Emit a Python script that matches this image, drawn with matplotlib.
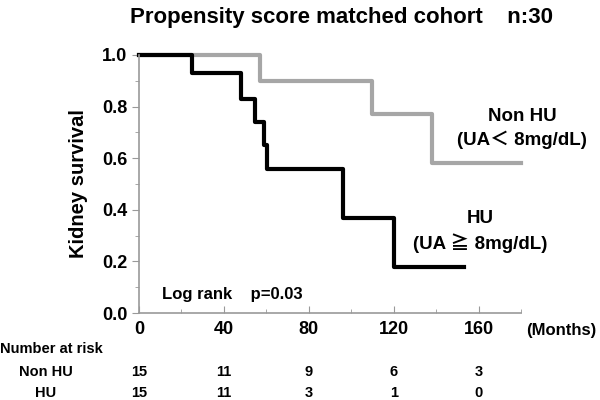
import matplotlib
matplotlib.use("Agg")
import matplotlib.pyplot as plt
from matplotlib.ticker import MultipleLocator

plt.rcParams['font.family'] = ['Liberation Sans', 'Noto Sans CJK JP', 'DejaVu Sans']
plt.rcParams['font.weight'] = 'bold'

# Kaplan-Meier step data
nonhu_t = [0, 57, 110, 138, 180]
nonhu_s = [1.0, 0.90, 0.77, 0.58, 0.58]
hu_t = [0, 25, 48, 54.5, 59, 60.5, 96, 120, 153]
hu_s = [1.0, 0.93, 0.83, 0.74, 0.65, 0.56, 0.37, 0.18, 0.18]

risk_times = [0, 40, 80, 120, 160]
risk_nonhu = [15, 11, 9, 6, 3]
risk_hu = [15, 11, 3, 1, 0]

fig = plt.figure(figsize=(6, 4), dpi=100)
ax = fig.add_axes([0.2317, 0.2175, 0.6366, 0.645])

ax.step(nonhu_t, nonhu_s, where='post', color='#a6a6a6', lw=3, clip_on=False)
ax.step(hu_t, hu_s, where='post', color='black', lw=3, clip_on=False)

ax.set_xlim(0, 180)
ax.set_ylim(0, 1.0)
ax.xaxis.set_major_locator(MultipleLocator(40))
ax.xaxis.set_minor_locator(MultipleLocator(20))
ax.yaxis.set_major_locator(MultipleLocator(0.2))
ax.yaxis.set_minor_locator(MultipleLocator(0.1))
ax.yaxis.set_major_formatter(plt.FormatStrFormatter('%.1f'))
ax.tick_params(axis='x', which='major', direction='in', length=5, color='#999999',
               labelsize=13, pad=6)
ax.tick_params(axis='x', which='minor', direction='in', length=3, color='#999999')
ax.tick_params(axis='y', which='major', direction='out', length=5, color='#999999',
               labelsize=13)
ax.tick_params(axis='y', which='minor', direction='out', length=3, color='#999999')
for s in ['top', 'right']:
    ax.spines[s].set_visible(False)
for s in ['left', 'bottom']:
    ax.spines[s].set_color('#999999')
    ax.spines[s].set_linewidth(1.2)

ax.set_ylabel('Kidney survival', fontsize=14.5, fontweight='bold', labelpad=10)

fig.text(0.57, 0.957, 'Propensity score matched cohort    n:30', ha='center',
         va='center', fontsize=16, fontweight='bold')

ax.text(11, 0.07, 'Log rank    p=0.03', fontsize=12, fontweight='bold', va='center')
ax.text(180.5, 0.76, 'Non HU', ha='center', va='center', fontsize=13.5, fontweight='bold')
ax.text(180.5, 0.67, '(UA\uff1c 8mg/dL)', ha='center', va='center', fontsize=13.5,
        fontweight='bold', clip_on=False)
ax.text(161, 0.368, 'HU', ha='center', va='center', fontsize=13.5, fontweight='bold')
ax.text(161, 0.271, '(UA \u2267 8mg/dL)', ha='center', va='center', fontsize=13.5,
        fontweight='bold')
fig.text(526 / 600, 1 - 330 / 400, '(Months)', ha='left', va='center',
         fontsize=12, fontweight='bold')

# number at risk table
fig.text(0.0, 1 - 349 / 400, 'Number at risk', ha='left', va='center', fontsize=10.5)
fig.text(46 / 600, 1 - 372 / 400, 'Non HU', ha='center', va='center', fontsize=10.5)
fig.text(46 / 600, 1 - 393 / 400, 'HU', ha='center', va='center', fontsize=10.5)
for t, a, b in zip(risk_times, risk_nonhu, risk_hu):
    x_fig = fig.transFigure.inverted().transform(ax.transData.transform((t, 0)))[0]
    fig.text(x_fig, 1 - 372 / 400, str(a), ha='center', va='center', fontsize=10.5)
    fig.text(x_fig, 1 - 393 / 400, str(b), ha='center', va='center', fontsize=10.5)

fig.savefig('out.png', dpi=100)
